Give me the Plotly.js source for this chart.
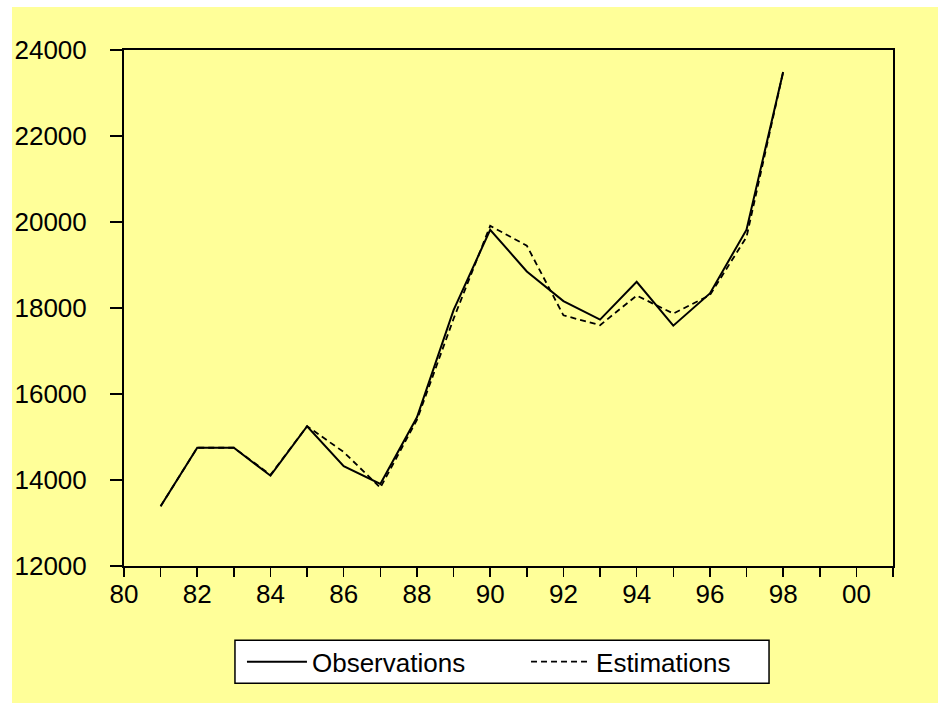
<!DOCTYPE html>
<html>
<head>
<meta charset="utf-8">
<script src="https://cdn.plot.ly/plotly-3.0.1.min.js"></script>
<style>
html,body{margin:0;padding:0;background:#ffffff;width:938px;height:703px;overflow:hidden;}
#chart{position:absolute;left:12px;top:7px;width:926px;height:696px;}
</style>
</head>
<body>
<div id="chart"></div>
<script>
var years = [81,82,83,84,85,86,87,88,89,90,91,92,93,94,95,96,97,98];
var observations = [13390,14750,14750,14100,15250,14320,13910,15460,17950,19820,18850,18160,17730,18610,17590,18340,19820,23490];
var estimations  = [13390,14750,14750,14120,15250,14650,13820,15400,17750,19910,19450,17830,17600,18290,17870,18300,19650,23490];
var xTickVals = [80,81,82,83,84,85,86,87,88,89,90,91,92,93,94,95,96,97,98,99,100,101];
var xTickText = ['80','','82','','84','','86','','88','','90','','92','','94','','96','','98','','00',''];
var yTickVals = [12000,14000,16000,18000,20000,22000,24000];

var traces = [
  {x: years, y: observations, name: 'Observations', type: 'scatter', mode: 'lines',
   line: {color: '#000000', width: 2}, legend: 'legend'},
  {x: years, y: estimations, name: 'Estimations', type: 'scatter', mode: 'lines',
   line: {color: '#000000', width: 1.8, dash: '6px,4px'}, legend: 'legend2'}
];

var legendFont = {family: 'Liberation Sans, Arial, sans-serif', size: 26, color: '#000'};

var layout = {
  width: 926, height: 696,
  paper_bgcolor: '#FFFF99', plot_bgcolor: '#FFFF99',
  margin: {l: 112, r: 45, t: 43, b: 137, pad: 0},
  showlegend: true,
  xaxis: {
    range: [80, 101], tickmode: 'array', tickvals: xTickVals, ticktext: xTickText,
    ticks: 'outside', ticklen: 9, tickwidth: 1.5, tickcolor: '#000',
    showline: true, linecolor: '#000', linewidth: 2, mirror: true,
    showgrid: false, zeroline: false, ticklabelstandoff: -5,
    tickfont: {family: 'Liberation Sans, Arial, sans-serif', size: 26, color: '#000'}
  },
  yaxis: {
    range: [12000, 24000], tickmode: 'array', tickvals: yTickVals,
    ticktext: yTickVals.map(String),
    ticks: 'outside', ticklen: 12, tickwidth: 1.5, tickcolor: '#000',
    showline: true, linecolor: '#000', linewidth: 2, mirror: true,
    showgrid: false, zeroline: false, ticklabelstandoff: 18,
    tickfont: {family: 'Liberation Sans, Arial, sans-serif', size: 26, color: '#000'}
  },
  legend: {
    orientation: 'h', x: 0.1534, xanchor: 'left', y: -0.1856, yanchor: 'middle',
    bgcolor: 'rgba(0,0,0,0)', borderwidth: 0, font: legendFont, itemwidth: 60
  },
  legend2: {
    orientation: 'h', x: 0.5228, xanchor: 'left', y: -0.1856, yanchor: 'middle',
    bgcolor: 'rgba(0,0,0,0)', borderwidth: 0, font: legendFont, itemwidth: 60
  },
  shapes: [
    {type: 'rect', xref: 'paper', yref: 'paper', x0: 0.1443, x1: 0.8388, y0: -0.2273, y1: -0.1440,
     fillcolor: '#ffffff', line: {color: '#000000', width: 1.5}, layer: 'above'}
  ]
};

Plotly.newPlot('chart', traces, layout, {displayModeBar: false, staticPlot: true});
</script>
</body>
</html>
